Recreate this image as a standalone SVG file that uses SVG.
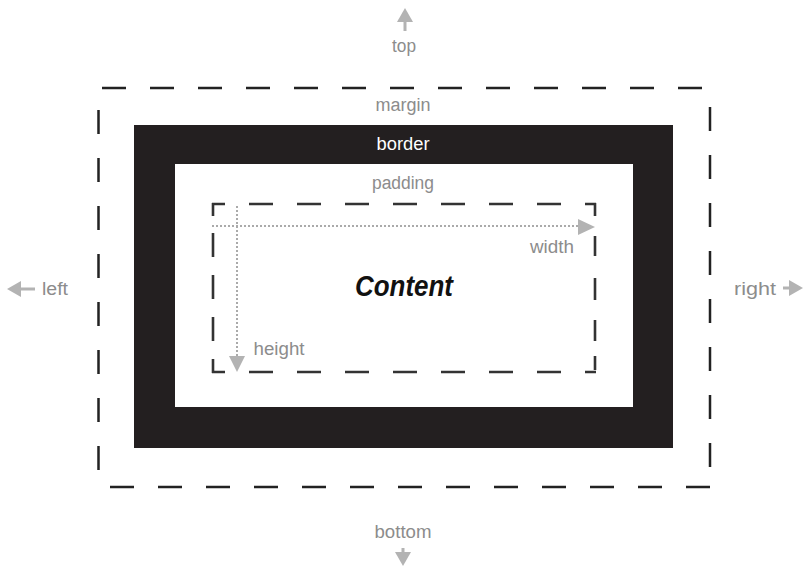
<svg xmlns="http://www.w3.org/2000/svg" width="807" height="571" viewBox="0 0 807 571">
<style>
.lbl{font-family:"Liberation Sans Narrow","Liberation Sans",Arial,sans-serif;font-size:18px;fill:#8c8c8c;text-anchor:middle}
.wht{fill:#ffffff}
.dash-outer{stroke:#222;stroke-width:2.5;fill:none;stroke-dasharray:24 24}
.dash-inner{stroke:#333;stroke-width:2.6;fill:none}
.dot{stroke:#aaa;stroke-width:2;fill:none;stroke-dasharray:2 2}
.arr{fill:#b3b3b3}
.arrline{stroke:#b3b3b3;stroke-width:3;fill:none}
</style>
<rect width="807" height="571" fill="#ffffff"/>
<g id="margin">
<line class="dash-outer" x1="102" y1="88" x2="710" y2="88"/>
<line class="dash-outer" x1="110" y1="487" x2="710" y2="487"/>
<line class="dash-outer" x1="98.5" y1="110" x2="98.5" y2="487"/>
<line class="dash-outer" x1="710" y1="107" x2="710" y2="487"/>
<text class="lbl" x="403" y="111" textLength="55" lengthAdjust="spacingAndGlyphs">margin</text>
</g>
<g id="border">
<path d="M134,125H673V448H134Z M175,164V407H633V164Z" fill="#231f20" fill-rule="evenodd"/>
<text class="lbl wht" x="403" y="150" textLength="53" lengthAdjust="spacingAndGlyphs">border</text>
</g>
<g id="padding">
<text class="lbl" x="403" y="189" textLength="62" lengthAdjust="spacingAndGlyphs">padding</text>
</g>
<g id="content">
<line class="dash-inner" x1="212" y1="204" x2="596" y2="204" stroke-dasharray="24 24" stroke-dashoffset="11"/>
<line class="dash-inner" x1="212" y1="372" x2="596" y2="372" stroke-dasharray="24 24" stroke-dashoffset="11"/>
<line class="dash-inner" x1="213" y1="203" x2="213" y2="373" stroke-dasharray="13 17 24 18 24 18 24 18 14"/>
<line class="dash-inner" x1="595" y1="203" x2="595" y2="373" stroke-dasharray="13 20 20 22 22 20 21 15 14"/>
<text x="404" y="296" font-family="'Liberation Sans',Arial,sans-serif" font-size="29" font-weight="bold" font-style="italic" fill="#111" text-anchor="middle" textLength="98" lengthAdjust="spacingAndGlyphs">Content</text>
</g>
<g id="connectors">
<line class="dot" x1="212" y1="226" x2="580" y2="226"/>
<polygon class="arr" points="595,227 578,219 578,235"/>
<line class="dot" x1="237" y1="206" x2="237" y2="357"/>
<polygon class="arr" points="237,372 229,356 245,356"/>
<line class="arrline" x1="405" y1="18" x2="405" y2="31"/>
<polygon class="arr" points="405,8 397,22 413,22"/>
<line class="arrline" x1="18" y1="289" x2="35" y2="289"/>
<polygon class="arr" points="7,289 21,281 21,297"/>
<line class="arrline" x1="783" y1="288" x2="793" y2="288"/>
<polygon class="arr" points="803,288 789,280 789,296"/>
<line class="arrline" x1="403" y1="548" x2="403" y2="556"/>
<polygon class="arr" points="403,566 395,552 411,552"/>
</g>
<g id="labels">
<text class="lbl" x="404" y="52" textLength="24" lengthAdjust="spacingAndGlyphs">top</text>
<text class="lbl" x="55" y="295" textLength="26" lengthAdjust="spacingAndGlyphs">left</text>
<text class="lbl" x="755" y="295" textLength="42" lengthAdjust="spacingAndGlyphs">right</text>
<text class="lbl" x="403" y="538" textLength="57" lengthAdjust="spacingAndGlyphs">bottom</text>
<text class="lbl" x="552" y="253" textLength="44" lengthAdjust="spacingAndGlyphs">width</text>
<text class="lbl" x="279" y="355" textLength="51" lengthAdjust="spacingAndGlyphs">height</text>
</g>
</svg>
